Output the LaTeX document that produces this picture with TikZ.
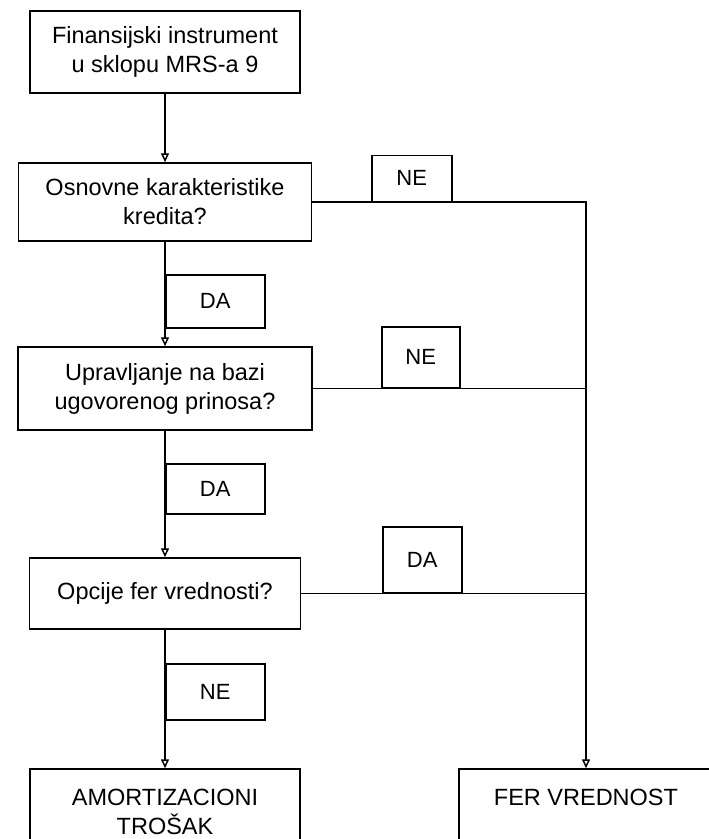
\documentclass[tikz,border=0pt]{standalone}
\usepackage{fontspec}
\setmainfont{Liberation Sans}
\usetikzlibrary{arrows.meta}
\begin{document}
\begin{tikzpicture}[x=1pt,y=-1pt,
  line width=1.5pt,
  stepbox/.style={draw, align=center, inner sep=0pt,
    font=\fontsize{23.5}{29}\selectfont},
  tag/.style={draw, inner sep=0pt, font=\fontsize{22}{26}\selectfont},
  flow/.style={-{Triangle[open,length=9pt,width=8pt]}}]
\clip (0,0) rectangle (709,839);

% decision chain on the left
\node[stepbox, minimum width=270, minimum height=82] (b1) at (165,52)
  {Finansijski instrument\\u sklopu MRS-a 9};
\node[stepbox, minimum width=293, minimum height=78] (b2) at (165,202)
  {Osnovne karakteristike\\kredita?};
\node[stepbox, minimum width=294, minimum height=83] (b3) at (165,388.5)
  {Upravljanje na bazi\\ugovorenog prinosa?};
\node[stepbox, minimum width=271, minimum height=71] (b4) at (165,593.5)
  {Opcije fer vrednosti?};

% outcomes
\node[stepbox, minimum width=270, minimum height=86] (b5) at (165,812)
  {AMORTIZACIONI\\TROŠAK};
\node[stepbox, minimum width=254, minimum height=86] (b6) at (586,812)
  {FER VREDNOST\\\mbox{}};

% answer tags on the vertical path
\node[tag, anchor=north west, minimum width=99, minimum height=53] (da1) at (165,274) {DA};
\node[tag, anchor=north west, minimum width=99, minimum height=50] (da2) at (165,463) {DA};
\node[tag, anchor=north west, minimum width=99, minimum height=56] (ne3) at (165,663) {NE};

% answer tags on the horizontal branches
\node[tag, anchor=south west, minimum width=80, minimum height=46] (ne1) at (371,202) {NE};
\node[tag, anchor=south west, minimum width=78, minimum height=61] (ne2) at (381,388.5) {NE};
\node[tag, anchor=south west, minimum width=79, minimum height=66] (da3) at (382,593.5) {DA};

% connectors
\draw[flow] (b1.south) -- (b2.north);
\draw[flow] (b2.south) -- (b3.north);
\draw[flow] (b3.south) -- (b4.north);
\draw[flow] (b4.south) -- (b5.north);
\draw[flow] (b2.east) -| (b6.north);
\draw (b3.east) -- (b3.east -| b6.north);
\draw (b4.east) -- (b4.east -| b6.north);
\end{tikzpicture}
\end{document}
